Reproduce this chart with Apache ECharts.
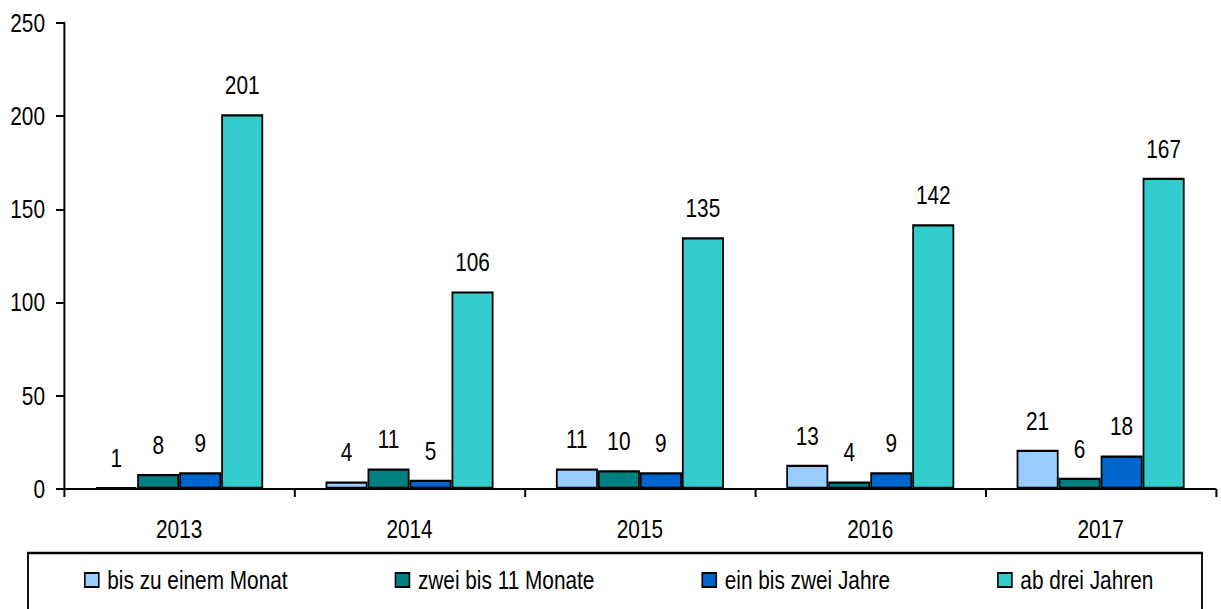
<!DOCTYPE html>
<html>
<head>
<meta charset="utf-8">
<script src="https://cdn.jsdelivr.net/npm/echarts@6/dist/echarts.min.js"></script>
<style>
html,body{margin:0;padding:0;background:#fff;overflow:hidden;}
#wrap{width:1221px;height:609px;overflow:hidden;}
#chart{width:1526px;height:609px;transform:scaleX(0.8);transform-origin:0 0;}
</style>
</head>
<body>
<div id="wrap"><div id="chart"></div></div>
<script>
const categories = ['2013', '2014', '2015', '2016', '2017'];
const seriesNames = ['bis zu einem Monat', 'zwei bis 11 Monate', 'ein bis zwei Jahre', 'ab drei Jahren'];
const bisEinemMonat = [1, 4, 11, 13, 21];
const zweiBis11Monate = [8, 11, 10, 4, 6];
const einBisZweiJahre = [9, 5, 9, 9, 18];
const abDreiJahren = [201, 106, 135, 142, 167];
const yTicks = [0, 50, 100, 150, 200, 250];

// the reference uses a condensed sans; the chart is drawn wider and squeezed horizontally by S
const S = 0.8;
const X = v => v / S;
const FONT = '"Liberation Sans", Arial, sans-serif';
const FS = 26;
const colors = ['#99CCFF', '#008080', '#0066CC', '#33CCCC'];
const values = [bisEinemMonat, zweiBis11Monate, einBisZweiJahre, abDreiJahren];

const chart = echarts.init(document.getElementById('chart'), null, {renderer: 'svg'});
chart.setOption({
  animation: false,
  backgroundColor: '#ffffff',
  textStyle: {fontFamily: FONT},
  grid: {left: X(64), top: 23, right: X(5), bottom: 120, containLabel: false},
  legend: {
    left: X(84), top: 566, padding: 0,
    itemWidth: X(14), itemHeight: 14, itemGap: X(107),
    icon: 'rect',
    textStyle: {fontFamily: FONT, fontSize: FS, color: '#000', lineHeight: 28, padding: [0, 0, 0, X(4.5)]},
    data: seriesNames
  },
  graphic: [{
    type: 'rect',
    shape: {x: X(28), y: 553, width: X(1174), height: 80},
    style: {fill: 'none', stroke: '#000', lineWidth: 2.3},
    silent: true
  }],
  xAxis: {
    type: 'category',
    data: categories,
    axisLine: {lineStyle: {color: '#000', width: 2}},
    axisTick: {show: true, length: 8, lineStyle: {color: '#000', width: 2.5}},
    axisLabel: {fontFamily: FONT, fontSize: FS, color: '#000', margin: 27},
    splitLine: {show: false}
  },
  yAxis: {
    type: 'value',
    min: 0, max: yTicks[yTicks.length - 1], interval: yTicks[1] - yTicks[0],
    axisLine: {show: true, lineStyle: {color: '#000', width: 2.5}},
    axisTick: {show: true, length: X(8), lineStyle: {color: '#000', width: 2}},
    axisLabel: {fontFamily: FONT, fontSize: FS, color: '#000', margin: X(19)},
    splitLine: {show: false}
  },
  series: seriesNames.map((name, i) => ({
    name: name,
    type: 'bar',
    data: values[i],
    barWidth: X(42),
    barGap: '0%',
    itemStyle: {color: colors[i], borderColor: '#000', borderWidth: 2.2},
    label: {
      show: true, position: 'top', distance: 16,
      fontFamily: FONT, fontSize: FS, color: '#000'
    }
  }))
});
</script>
</body>
</html>
